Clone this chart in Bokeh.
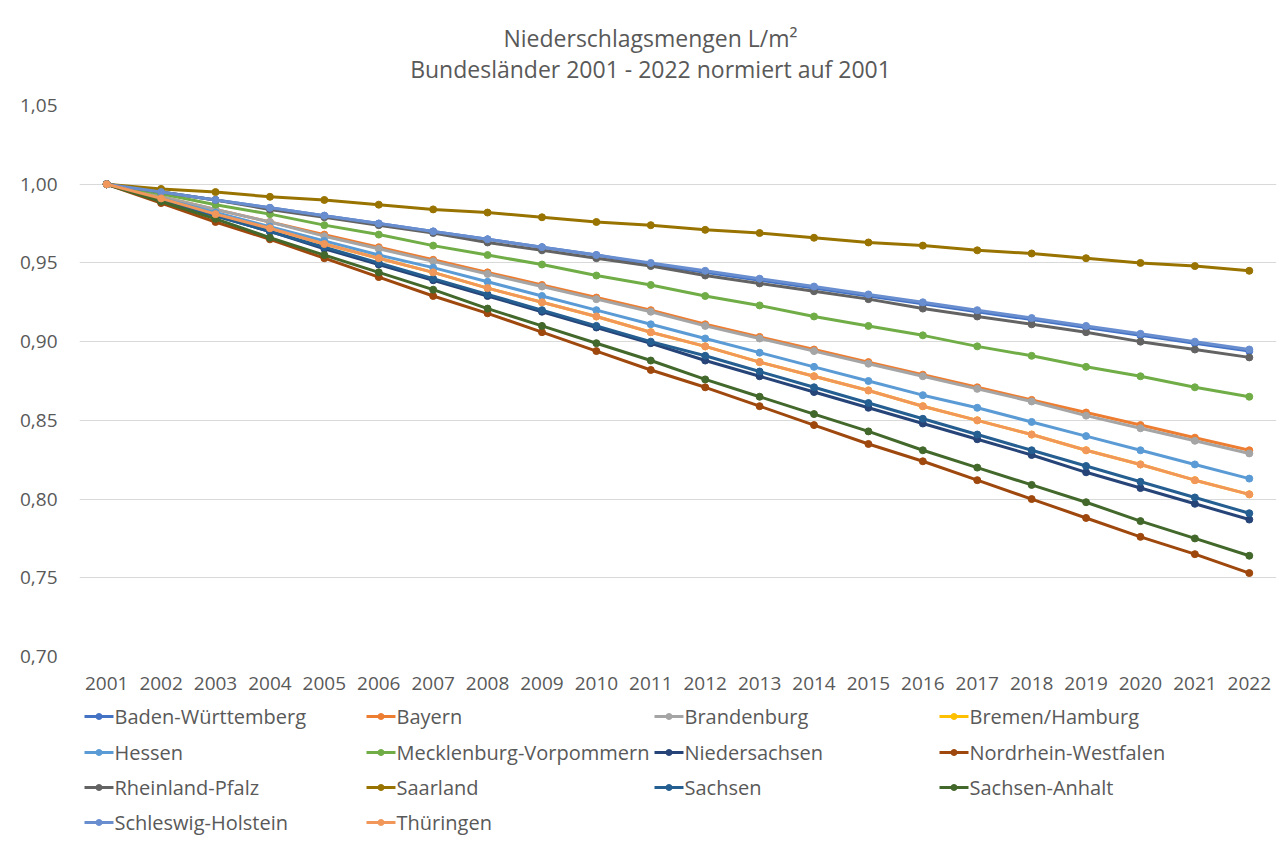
from bokeh.plotting import figure
from bokeh.models import Range1d, FixedTicker, CustomJSTickFormatter, ColumnDataSource
from bokeh.layouts import column
from bokeh.core.properties import value
from bokeh.embed import file_html
from bokeh.resources import INLINE

title_lines = ["Niederschlagsmengen L/m²", "Bundesländer 2001 - 2022 normiert auf 2001"]

years = list(range(2001, 2023))
y_ticks = [0.70, 0.75, 0.80, 0.85, 0.90, 0.95, 1.00, 1.05]

names = ["Baden-Württemberg", "Bayern", "Brandenburg", "Bremen/Hamburg",
         "Hessen", "Mecklenburg-Vorpommern", "Niedersachsen", "Nordrhein-Westfalen",
         "Rheinland-Pfalz", "Saarland", "Sachsen", "Sachsen-Anhalt",
         "Schleswig-Holstein", "Thüringen"]

colors = ["#4472C4", "#ED7D31", "#A5A5A5", "#FFC000",
          "#5B9BD5", "#70AD47", "#264478", "#9E480E",
          "#636363", "#997300", "#255E91", "#43682B",
          "#698ED0", "#F1975A"]

baden_wuerttemberg = [1.000, 0.995, 0.990, 0.985, 0.980, 0.975, 0.970, 0.965, 0.960, 0.955, 0.949,
                      0.944, 0.939, 0.934, 0.929, 0.924, 0.919, 0.914, 0.909, 0.904, 0.899, 0.894]
bayern = [1.000, 0.992, 0.984, 0.976, 0.968, 0.960, 0.952, 0.944, 0.936, 0.928, 0.920,
          0.911, 0.903, 0.895, 0.887, 0.879, 0.871, 0.863, 0.855, 0.847, 0.839, 0.831]
brandenburg = [1.000, 0.992, 0.984, 0.976, 0.967, 0.959, 0.951, 0.943, 0.935, 0.927, 0.919,
               0.910, 0.902, 0.894, 0.886, 0.878, 0.870, 0.862, 0.853, 0.845, 0.837, 0.829]
bremen_hamburg = [1.000, 0.991, 0.981, 0.972, 0.962, 0.953, 0.944, 0.934, 0.925, 0.916, 0.906,
                  0.897, 0.887, 0.878, 0.869, 0.859, 0.850, 0.841, 0.831, 0.822, 0.812, 0.803]
hessen = [1.000, 0.991, 0.982, 0.973, 0.964, 0.955, 0.947, 0.938, 0.929, 0.920, 0.911,
          0.902, 0.893, 0.884, 0.875, 0.866, 0.858, 0.849, 0.840, 0.831, 0.822, 0.813]
mecklenburg_vorpommern = [1.000, 0.994, 0.987, 0.981, 0.974, 0.968, 0.961, 0.955, 0.949, 0.942, 0.936,
                          0.929, 0.923, 0.916, 0.910, 0.904, 0.897, 0.891, 0.884, 0.878, 0.871, 0.865]
niedersachsen = [1.000, 0.990, 0.980, 0.970, 0.959, 0.949, 0.939, 0.929, 0.919, 0.909, 0.899,
                 0.888, 0.878, 0.868, 0.858, 0.848, 0.838, 0.828, 0.817, 0.807, 0.797, 0.787]
nordrhein_westfalen = [1.000, 0.988, 0.976, 0.965, 0.953, 0.941, 0.929, 0.918, 0.906, 0.894, 0.882,
                       0.871, 0.859, 0.847, 0.835, 0.824, 0.812, 0.800, 0.788, 0.776, 0.765, 0.753]
rheinland_pfalz = [1.000, 0.995, 0.990, 0.984, 0.979, 0.974, 0.969, 0.963, 0.958, 0.953, 0.948,
                   0.942, 0.937, 0.932, 0.927, 0.921, 0.916, 0.911, 0.906, 0.900, 0.895, 0.890]
saarland = [1.000, 0.997, 0.995, 0.992, 0.990, 0.987, 0.984, 0.982, 0.979, 0.976, 0.974,
            0.971, 0.969, 0.966, 0.963, 0.961, 0.958, 0.956, 0.953, 0.950, 0.948, 0.945]
sachsen = [1.000, 0.990, 0.980, 0.970, 0.960, 0.950, 0.940, 0.930, 0.920, 0.910, 0.900,
           0.891, 0.881, 0.871, 0.861, 0.851, 0.841, 0.831, 0.821, 0.811, 0.801, 0.791]
sachsen_anhalt = [1.000, 0.989, 0.978, 0.966, 0.955, 0.944, 0.933, 0.921, 0.910, 0.899, 0.888,
                  0.876, 0.865, 0.854, 0.843, 0.831, 0.820, 0.809, 0.798, 0.786, 0.775, 0.764]
schleswig_holstein = [1.000, 0.995, 0.990, 0.985, 0.980, 0.975, 0.970, 0.965, 0.960, 0.955, 0.950,
                      0.945, 0.940, 0.935, 0.930, 0.925, 0.920, 0.915, 0.910, 0.905, 0.900, 0.895]
thueringen = [1.000, 0.991, 0.981, 0.972, 0.962, 0.953, 0.944, 0.934, 0.925, 0.916, 0.906,
              0.897, 0.887, 0.878, 0.869, 0.859, 0.850, 0.841, 0.831, 0.822, 0.812, 0.803]

series = [baden_wuerttemberg, bayern, brandenburg, bremen_hamburg, hessen,
          mecklenburg_vorpommern, niedersachsen, nordrhein_westfalen, rheinland_pfalz,
          saarland, sachsen, sachsen_anhalt, schleswig_holstein, thueringen]

FONT = value("Open Sans")
TXT = "#595959"
W = 1281
BL = 79   # left border (frame start), shared by all three figures
BR = 5    # right border
FX0, FX1 = BL, W - BR  # frame extent in page pixels

# ---- title figure ----
TH = 85
t = figure(width=W, height=TH, x_range=Range1d(FX0, FX1), y_range=Range1d(TH, 0),
           x_axis_location=None, y_axis_location=None, toolbar_location=None,
           output_backend="svg", min_border_left=BL, min_border_right=BR,
           min_border_top=0, min_border_bottom=0)
t.grid.visible = False
t.outline_line_color = None
t.text(x=[650, 650], y=[37, 68], text=title_lines, text_font=FONT,
       text_font_size="23px", text_color=TXT, text_align="center", text_baseline="middle")

# ---- main chart ----
p = figure(width=W, height=615, x_range=Range1d(2000.5, 2022.5), y_range=Range1d(0.70, 1.05),
           toolbar_location=None, output_backend="svg",
           min_border_left=BL, min_border_right=BR, min_border_top=20, min_border_bottom=44)
p.outline_line_color = None
p.xgrid.grid_line_color = None
p.ygrid.grid_line_color = "#D9D9D9"
p.ygrid.grid_line_width = 1
p.yaxis.ticker = FixedTicker(ticks=y_ticks)
p.xaxis.ticker = FixedTicker(ticks=years)
p.yaxis.formatter = CustomJSTickFormatter(code="return tick.toFixed(2).replace('.', ',');")
p.xaxis.formatter = CustomJSTickFormatter(code="return tick.toFixed(0);")
for ax in [p.xaxis[0], p.yaxis[0]]:
    ax.axis_line_color = None
    ax.major_tick_line_color = None
    ax.minor_tick_line_color = None
    ax.major_tick_out = 0
    ax.major_tick_in = 0
    ax.minor_tick_out = 0
    ax.major_label_text_font = "Open Sans"
    ax.major_label_text_font_size = "19px"
    ax.major_label_text_color = TXT
p.yaxis.major_label_standoff = 22
p.xaxis.major_label_standoff = 20

for vals, c in zip(series, colors):
    p.line(years, vals, line_color=c, line_width=3)
    p.scatter(years, vals, size=7, fill_color=c, line_color=c)

# ---- legend figure ----
LH = 145
leg = figure(width=W, height=LH, x_range=Range1d(FX0, FX1), y_range=Range1d(LH, 0),
             x_axis_location=None, y_axis_location=None, toolbar_location=None,
             output_backend="svg", min_border_left=BL, min_border_right=BR,
             min_border_top=0, min_border_bottom=0)
leg.grid.visible = False
leg.outline_line_color = None
col_x = [84, 366, 654, 939]
row_y = [16, 52, 87, 122]
seg_len = 29
x0s, x1s, ys, xs_dot, xs_txt = [], [], [], [], []
for i in range(len(names)):
    cx = col_x[i % 4]
    ry = row_y[i // 4]
    x0s.append(cx)
    x1s.append(cx + seg_len)
    ys.append(ry)
    xs_dot.append(cx + seg_len / 2)
    xs_txt.append(cx + seg_len + 1)
src = ColumnDataSource(dict(x0=x0s, x1=x1s, y=ys, xd=xs_dot, xt=xs_txt, name=names, color=colors))
leg.segment(x0="x0", y0="y", x1="x1", y1="y", line_color="color", line_width=3, source=src)
leg.scatter(x="xd", y="y", size=6, fill_color="color", line_color="color", source=src)
leg.text(x="xt", y="y", text="name", text_font=FONT, text_font_size="20px", text_color=TXT,
         text_align="left", text_baseline="middle", source=src)

layout = column(t, p, leg)
open("out.html", "w").write(file_html(layout, INLINE))
